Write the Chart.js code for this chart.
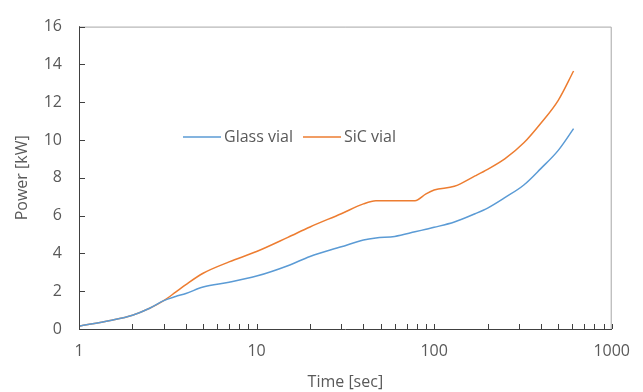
<!DOCTYPE html>
<html>
<head>
<meta charset="utf-8">
<script src="https://cdn.jsdelivr.net/npm/chart.js@4.4.1/dist/chart.umd.min.js"></script>
<style>
    html, body { margin: 0; padding: 0; background: #fff; }
    #wrap { position: relative; width: 643px; height: 392px; }
</style>
</head>
<body>
<div id="wrap"><canvas id="chart" width="643" height="392"></canvas></div>
<script>
// time in seconds (log axis)
const timeSec = [1, 1.5, 2, 2.5, 3, 3.5, 4, 5, 7, 10, 15, 20, 30, 40, 47, 60, 78, 90, 100, 130, 170, 200, 250, 320, 400, 500, 610];

// power in kW
const glassPower = [0.15, 0.45, 0.73, 1.1, 1.5, 1.72, 1.88, 2.22, 2.47, 2.8, 3.35, 3.84, 4.35, 4.71, 4.82, 4.9, 5.14, 5.28, 5.38, 5.66, 6.1, 6.4, 6.95, 7.62, 8.5, 9.45, 10.6];
const sicPower = [0.15, 0.45, 0.73, 1.1, 1.5, 1.95, 2.35, 2.95, 3.55, 4.1, 4.85, 5.4, 6.1, 6.62, 6.78, 6.78, 6.79, 7.15, 7.35, 7.55, 8.1, 8.45, 9.0, 9.85, 10.9, 12.1, 13.65];

const seriesNames = ['Glass vial', 'SiC vial'];
const seriesColors = ['#5B9BD5', '#ED7D31'];

const xTickValues = [1, 2, 3, 4, 5, 6, 7, 8, 9, 10, 20, 30, 40, 50, 60, 70, 80, 90, 100,
    200, 300, 400, 500, 600, 700, 800, 900, 1000];
const xTickLabels = [1, 10, 100, 1000];
const yTicks = [0, 2, 4, 6, 8, 10, 12, 14, 16];

const textColor = '#595959';
const fontFamily = "'Open Sans', 'Liberation Sans', sans-serif";

const toPoints = (vals) => timeSec.map((t, i) => ({ x: t, y: vals[i] }));

// box around plot + inward tick marks
const frameAndTicks = {
    id: 'frameAndTicks',
    afterDraw(chart) {
        const { ctx, chartArea: a, scales } = chart;
        ctx.save();
        ctx.strokeStyle = '#A6A6A6';
        ctx.lineWidth = 1;
        ctx.beginPath();
        ctx.moveTo(a.left, a.top + 0.5);
        ctx.lineTo(a.right - 0.5, a.top + 0.5);
        ctx.lineTo(a.right - 0.5, a.bottom);
        ctx.stroke();

        ctx.strokeStyle = '#404040';
        ctx.beginPath();
        scales.y.ticks.forEach(t => {
            const py = Math.round(scales.y.getPixelForValue(t.value)) + 0.5;
            ctx.moveTo(a.left, py);
            ctx.lineTo(a.left + 6, py);
        });
        scales.x.ticks.forEach(t => {
            const px = Math.round(scales.x.getPixelForValue(t.value)) + 0.5;
            ctx.moveTo(px, a.bottom);
            ctx.lineTo(px, a.bottom - 5);
        });
        ctx.stroke();
        ctx.restore();
    }
};

// legend drawn inside the plot area
const innerLegend = {
    id: 'innerLegend',
    afterDraw(chart) {
        const { ctx } = chart;
        const spots = [183, 303];
        const y = 137;
        ctx.save();
        ctx.font = '16px ' + fontFamily;
        ctx.textBaseline = 'middle';
        ctx.fillStyle = textColor;
        chart.data.datasets.forEach((ds, i) => {
            const x = spots[i];
            ctx.strokeStyle = ds.borderColor;
            ctx.lineWidth = 1.5;
            ctx.beginPath();
            ctx.moveTo(x, y);
            ctx.lineTo(x + 38, y);
            ctx.stroke();
            ctx.fillText(ds.label, x + 41, y);
        });
        ctx.restore();
    }
};

const ctx = document.getElementById('chart').getContext('2d');

new Chart(ctx, {
    type: 'line',
    data: {
        datasets: [
            {
                label: seriesNames[0],
                data: toPoints(glassPower),
                borderColor: seriesColors[0],
                borderWidth: 1.5,
                pointRadius: 0,
                cubicInterpolationMode: 'monotone'
            },
            {
                label: seriesNames[1],
                data: toPoints(sicPower),
                borderColor: seriesColors[1],
                borderWidth: 1.5,
                pointRadius: 0,
                cubicInterpolationMode: 'monotone'
            }
        ]
    },
    options: {
        responsive: false,
        animation: false,
        layout: { padding: { top: 21, right: 23, left: 0, bottom: 0 } },
        plugins: {
            legend: { display: false },
            tooltip: { enabled: false }
        },
        scales: {
            x: {
                type: 'logarithmic',
                min: 1,
                max: 1000,
                afterBuildTicks: (scale) => {
                    scale.ticks = xTickValues.map(v => ({ value: v }));
                },
                afterFit: (scale) => { scale.height = 63; },
                grid: { display: false, drawTicks: false },
                border: { display: true, color: '#404040', width: 1 },
                ticks: {
                    autoSkip: false,
                    maxRotation: 0,
                    padding: 13,
                    color: textColor,
                    font: { family: fontFamily, size: 16 },
                    callback: (v) => xTickLabels.includes(v) ? String(v) : ''
                },
                title: {
                    display: true,
                    text: 'Time [sec]',
                    color: textColor,
                    font: { family: fontFamily, size: 16 },
                    padding: { top: 0, bottom: 0 }
                }
            },
            y: {
                min: 0,
                max: 16,
                afterBuildTicks: (scale) => {
                    scale.ticks = yTicks.map(v => ({ value: v }));
                },
                afterFit: (scale) => { scale.width = 79; },
                grid: { display: false, drawTicks: false },
                border: { display: true, color: '#404040', width: 1 },
                ticks: {
                    padding: 17,
                    color: textColor,
                    font: { family: fontFamily, size: 16 }
                },
                title: {
                    display: true,
                    text: 'Power [kW]',
                    color: textColor,
                    font: { family: fontFamily, size: 16 },
                    padding: { top: 13, bottom: 0 }
                }
            }
        }
    },
    plugins: [frameAndTicks, innerLegend]
});
</script>
</body>
</html>
